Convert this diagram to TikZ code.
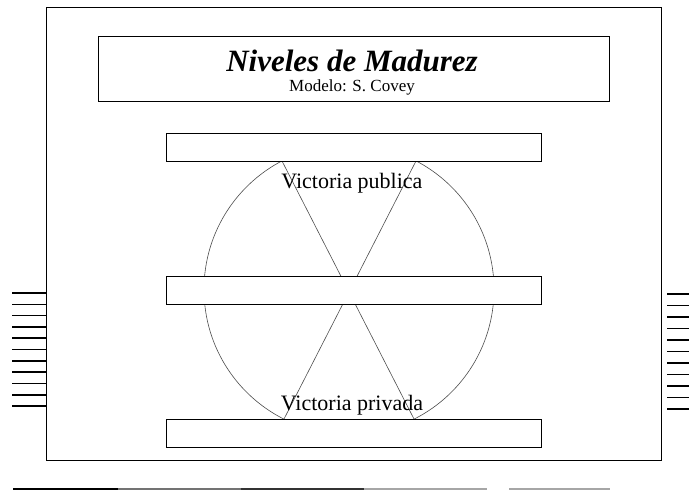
\documentclass[tikz,border=0pt]{standalone}
\usepackage{fontspec}
\setmainfont{Liberation Serif}
\begin{document}
\begin{tikzpicture}[x=1pt,y=-1pt,
  boxline/.style={draw=black,line width=1.1pt,fill=white},
  barbox/.style={draw=black,line width=1pt,fill=white,minimum width=375pt,minimum height=27.5pt,inner sep=0pt,anchor=north west},
  hatch/.style={line width=1.6pt},
  thinline/.style={draw=black!70,line width=0.6pt},
  vlabel/.style={font=\fontsize{22}{26}\selectfont,inner sep=1pt}]
\useasboundingbox (0,0) rectangle (689,493);
% outer frame
\node[draw=black,line width=1.3pt,minimum width=615pt,minimum height=453pt,inner sep=0pt,anchor=north west] (frame) at (46,7) {};
% title box
\node[boxline,minimum width=511pt,minimum height=65pt,inner sep=0pt,anchor=north west] (titlebox) at (98,36) {};
\node[font=\fontsize{31}{35}\selectfont\bfseries\itshape] (title) at (352,61) {Niveles de Madurez};
\node[font=\fontsize{17}{20}\selectfont] (subtitle) at (352,87) {Modelo: S. Covey};
% circle and diameters
\node[thinline,circle,minimum size=290pt,inner sep=0pt] (circ) at (349,289.5) {};
\coordinate (tl) at (282,161);
\coordinate (tr) at (416,161);
\coordinate (bl) at (284,419);
\coordinate (br) at (414,419);
\draw[thinline] (tl) -- (br);
\draw[thinline] (tr) -- (bl);
% bars
\node[barbox] (bartop) at (166,133) {};
\node[barbox] (barmid) at (166,276) {};
\node[barbox] (barbot) at (166,419) {};
% labels
\node[vlabel] (pub) at (352,183) {Victoria publica};
\node[vlabel] (priv) at (352,405) {Victoria privada};
% side hatches
\foreach \i in {0,...,10} {
  \coordinate (la\i) at (12,293+11.3*\i);
  \coordinate (lb\i) at (frame.west |- la\i);
  \draw[hatch] (la\i) -- (lb\i);
  \coordinate (ra\i) at (667,294+11.5*\i);
  \coordinate (rb\i) at (689,294+11.5*\i);
  \draw[hatch] (ra\i) -- (rb\i);
}
% bottom rule
\coordinate (r0) at (13,489);
\coordinate (r1) at (118,489);
\coordinate (r2) at (241,489);
\coordinate (r3) at (364,489);
\coordinate (r4) at (487,489);
\coordinate (r5) at (509,489);
\coordinate (r6) at (610,489);
\draw[line width=1.8pt,black] (r0) -- (r1);
\draw[line width=1.4pt,black!55] (r1) -- (r2);
\draw[line width=1.5pt,black!80] (r2) -- (r3);
\draw[line width=1.2pt,black!35] (r3) -- (r4);
\draw[line width=1.2pt,black!35] (r5) -- (r6);
\end{tikzpicture}
\end{document}
